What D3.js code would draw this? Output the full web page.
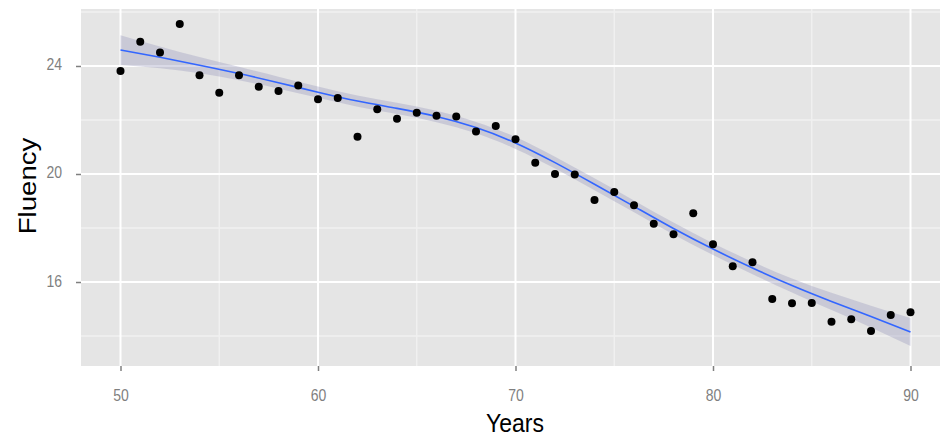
<!DOCTYPE html>
<html>
<head>
<meta charset="utf-8">
<script src="https://cdn.jsdelivr.net/npm/d3@7"></script>
<style>
  html, body { margin: 0; padding: 0; background: #fff; }
  svg { display: block; }
  text { font-family: "Liberation Sans", Arial, sans-serif; }
</style>
</head>
<body>
<svg id="chart" width="940" height="441"></svg>
<script>
// ---- data ----
const years = d3.range(50, 91);
const fluency = [
  23.81, 24.90, 24.50, 25.55, 23.66, 23.01, 23.66, 23.23, 23.07, 23.28,
  22.77, 22.81, 21.38, 22.40, 22.05, 22.27, 22.16, 22.13, 21.57, 21.78,
  21.29, 20.42, 20.00, 19.98, 19.04, 19.33, 18.84, 18.16, 17.77, 18.55,
  17.40, 16.58, 16.73, 15.37, 15.21, 15.22, 14.53, 14.62, 14.19, 14.78,
  14.88
];
const smoothX = [50, 52, 54, 56, 58, 60, 62, 64, 66, 68, 70, 72, 74, 76, 78, 80, 82, 84, 86, 88, 90];
const smoothFit = [24.59, 24.32, 24.03, 23.72, 23.38, 23.03, 22.70, 22.43, 22.13, 21.72, 21.15,
                   20.42, 19.62, 18.80, 17.98, 17.22, 16.52, 15.87, 15.28, 14.72, 14.15];
const smoothSE = [0.55, 0.40, 0.30, 0.25, 0.22, 0.21, 0.21, 0.21, 0.21, 0.21, 0.22,
                  0.22, 0.22, 0.22, 0.22, 0.22, 0.23, 0.26, 0.32, 0.40, 0.52];
const xTicks = [50, 60, 70, 80, 90];
const xMinor = [55, 65, 75, 85];
const yTicks = [16, 20, 24];
const yMinor = [14, 18, 22, 26];
const xLabel = "Years";
const yLabel = "Fluency";

// ---- layout ----
const svg = d3.select("#chart");
const panel = { left: 81, top: 9, right: 950, bottom: 366 };
const x = d3.scaleLinear().domain([48, 92]).range([panel.left, panel.right]);
const y = d3.scaleLinear().domain([12.89, 26.11]).range([panel.bottom, panel.top]);
const stretch = 1.15;

svg.append("rect")
  .attr("x", panel.left).attr("y", panel.top)
  .attr("width", panel.right - panel.left).attr("height", panel.bottom - panel.top)
  .attr("fill", "#E5E5E5");

const grid = svg.append("g");
grid.selectAll("line.xmin").data(xMinor).join("line")
  .attr("x1", d => x(d)).attr("x2", d => x(d))
  .attr("y1", panel.top).attr("y2", panel.bottom)
  .attr("stroke", "#F0F0F0").attr("stroke-width", 1.5);
grid.selectAll("line.ymin").data(yMinor).join("line")
  .attr("y1", d => y(d)).attr("y2", d => y(d))
  .attr("x1", panel.left).attr("x2", panel.right)
  .attr("stroke", "#F0F0F0").attr("stroke-width", 1.5);
grid.selectAll("line.xmaj").data(xTicks).join("line")
  .attr("x1", d => x(d)).attr("x2", d => x(d))
  .attr("y1", panel.top).attr("y2", panel.bottom)
  .attr("stroke", "#FFFFFF").attr("stroke-width", 2);
grid.selectAll("line.ymaj").data(yTicks).join("line")
  .attr("y1", d => y(d)).attr("y2", d => y(d))
  .attr("x1", panel.left).attr("x2", panel.right)
  .attr("stroke", "#FFFFFF").attr("stroke-width", 2);

// ---- smooth ribbon + line ----
const sm = smoothX.map((d, i) => ({ x: d, fit: smoothFit[i], se: smoothSE[i] }));
svg.append("path").datum(sm)
  .attr("d", d3.area().curve(d3.curveNatural)
    .x(d => x(d.x)).y0(d => y(d.fit - d.se)).y1(d => y(d.fit + d.se)))
  .attr("fill", "#9FA0C0").attr("fill-opacity", 0.4);
svg.append("path").datum(sm)
  .attr("d", d3.line().curve(d3.curveNatural).x(d => x(d.x)).y(d => y(d.fit)))
  .attr("fill", "none").attr("stroke", "#3366FF").attr("stroke-width", 1.6);

// ---- points ----
svg.append("g").selectAll("circle").data(years.map((d, i) => [d, fluency[i]])).join("circle")
  .attr("cx", d => x(d[0])).attr("cy", d => y(d[1])).attr("r", 4)
  .attr("fill", "#000");

// ---- axes ----
const xAxis = svg.append("g").attr("transform", `translate(0,${panel.bottom})`)
  .call(d3.axisBottom(x).tickValues(xTicks).tickSize(5).tickPadding(4));
xAxis.select(".domain").remove();
xAxis.selectAll(".tick line").attr("stroke", "#7F7F7F").attr("stroke-width", 1.5);
xAxis.selectAll(".tick text").attr("fill", "#7F7F7F").attr("font-size", 14)
  .attr("dy", null).attr("y", null)
  .attr("transform", `translate(0,35) scale(1,${stretch})`);

const yAxis = svg.append("g").attr("transform", `translate(${panel.left},0)`)
  .call(d3.axisLeft(y).tickValues(yTicks).tickSize(5).tickPadding(4));
yAxis.select(".domain").remove();
yAxis.selectAll(".tick line").attr("stroke", "#7F7F7F").attr("stroke-width", 1.5);
yAxis.selectAll(".tick text").attr("fill", "#7F7F7F").attr("font-size", 14)
  .attr("dy", null).attr("x", null)
  .attr("transform", `translate(-19,4) scale(1,${stretch})`);

svg.append("text").text(xLabel)
  .attr("text-anchor", "middle").attr("font-size", 23).attr("fill", "#000")
  .attr("transform", `translate(515,432) scale(1,${stretch})`);
svg.append("text").text(yLabel)
  .attr("text-anchor", "middle").attr("font-size", 24).attr("fill", "#000")
  .attr("transform", `translate(36,186) scale(1,${stretch}) rotate(-90)`);
</script>
</body>
</html>
